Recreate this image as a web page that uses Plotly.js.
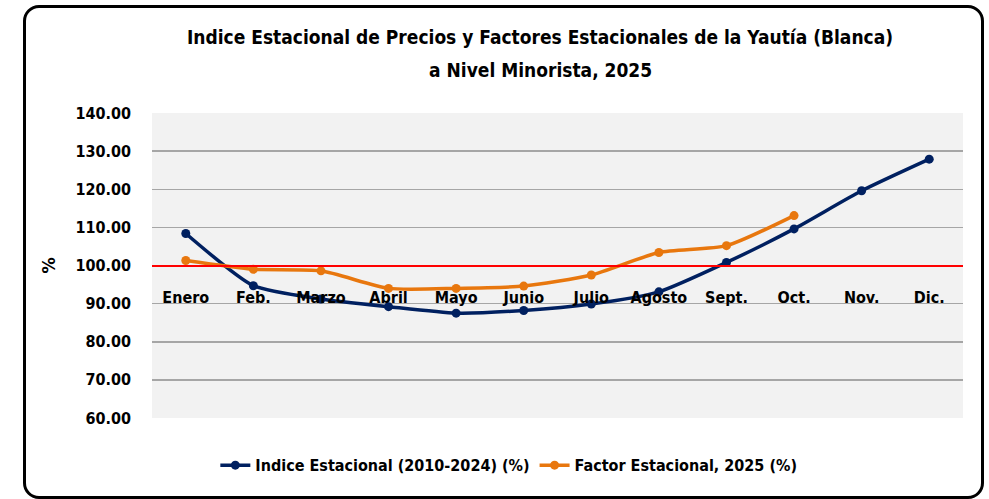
<!DOCTYPE html>
<html>
<head>
<meta charset="utf-8">
<script src="https://cdn.plot.ly/plotly-3.0.1.min.js"></script>
<style>
html,body{margin:0;padding:0;background:#fff;}
#wrap{position:relative;width:989px;height:499px;}
#chart{width:989px;height:499px;}
#frame{position:absolute;left:23px;top:5px;width:955px;height:488px;border:3px solid #000;border-radius:16px;pointer-events:none;}
</style>
</head>
<body>
<div id="wrap"><div id="chart"></div><div id="frame"></div></div>
<script>
const months = ['Enero','Feb.','Marzo','Abril','Mayo','Junio','Julio','Agosto','Sept.','Oct.','Nov.','Dic.'];
const indiceEstacional = [108.4, 94.7, 91.2, 89.2, 87.5, 88.2, 89.9, 93.1, 100.8, 109.6, 119.6, 127.9];
const factorEstacional = [101.3, 99.0, 98.6, 94.0, 94.0, 94.6, 97.5, 103.4, 105.2, 113.1];
const yTicks = [60, 70, 80, 90, 100, 110, 120, 130, 140];
const seriesNames = ['Indice Estacional (2010-2024) (%)', 'Factor Estacional, 2025 (%)'];
const titleLines = ['Indice Estacional de Precios y Factores Estacionales de la Yautía (Blanca)', 'a Nivel Minorista, 2025'];

const FONT = '"Liberation Sans Narrow", "DejaVu Sans Condensed", "Arial Narrow", sans-serif';

const traces = [
  {x: months, y: indiceEstacional, name: seriesNames[0], type: 'scatter', mode: 'lines+markers',
   line: {color: '#002060', width: 3.5, shape: 'spline', smoothing: 0.6}, marker: {color: '#002060', size: 9}},
  {x: months.slice(0, factorEstacional.length), y: factorEstacional, name: seriesNames[1], type: 'scatter', mode: 'lines+markers',
   line: {color: '#E8770E', width: 3.5, shape: 'spline', smoothing: 0.6}, marker: {color: '#E8770E', size: 9}}
];

const layout = {
  width: 989, height: 499,
  paper_bgcolor: '#ffffff', plot_bgcolor: '#f2f2f2',
  margin: {l: 152, r: 26, t: 113, b: 81},
  font: {family: FONT, color: '#000', size: 15},
  title: {text: '<b>' + titleLines[0] + '</b>', font: {family: FONT, size: 19, color: '#000'},
          x: 540/989, xanchor: 'center', xref: 'container', y: 1 - 37/499, yanchor: 'middle', yref: 'container'},
  annotations: [
    {text: '<b>' + titleLines[1] + '</b>', xref: 'paper', yref: 'paper', x: (540-152)/811, y: (418-70)/305,
     xanchor: 'center', yanchor: 'middle', showarrow: false, font: {family: FONT, size: 19, color: '#000'}}
  ],
  xaxis: {type: 'category', range: [-0.5, 11.5], anchor: 'free', position: 0.5, showline: true, linecolor: '#ff0000', linewidth: 2,
          showgrid: false, zeroline: false, ticks: '', ticklabelstandoff: 17,
          tickfont: {family: FONT, size: 16, color: '#000', weight: 'bold'}, fixedrange: true},
  yaxis: {range: [60, 140], tickvals: yTicks, ticktext: yTicks.map(v => v.toFixed(2)),
          showgrid: true, gridcolor: '#a6a6a6', gridwidth: 1.5, zeroline: false, showline: false, ticks: '',
          ticklabelstandoff: 20,
          tickfont: {family: FONT, size: 16, color: '#000', weight: 'bold'},
          title: {text: '<b>%</b>', font: {family: FONT, size: 18, color: '#000'}, standoff: 15}},
  showlegend: true,
  legend: {orientation: 'h', x: 0.44, xanchor: 'center', y: -0.155, yanchor: 'middle',
           font: {family: FONT, size: 16, color: '#000', weight: 'bold'}, itemwidth: 30, bgcolor: 'rgba(0,0,0,0)'}
};

Plotly.newPlot('chart', traces, layout, {staticPlot: true});
</script>
</body>
</html>
